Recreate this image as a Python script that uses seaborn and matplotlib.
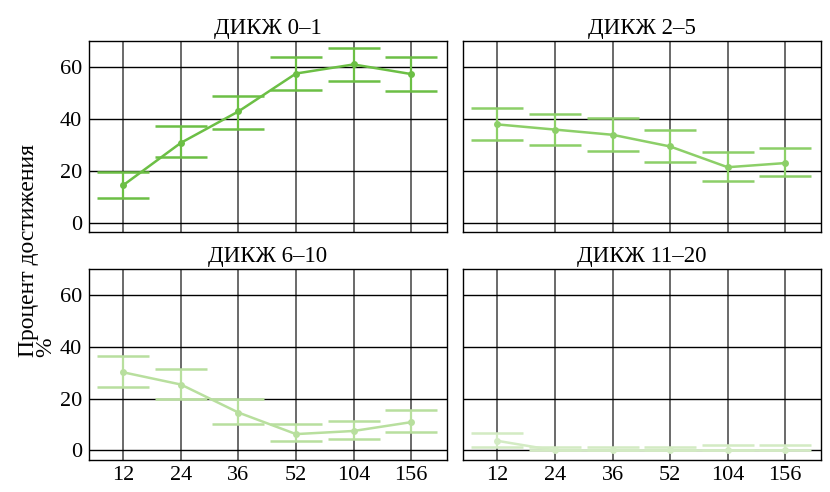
import matplotlib
matplotlib.use("Agg")
import matplotlib.pyplot as plt
import numpy as np
import pandas as pd
import seaborn as sns

weeks = ["12", "24", "36", "52", "104", "156"]
groups = ["ДИКЖ 0–1", "ДИКЖ 2–5", "ДИКЖ 6–10", "ДИКЖ 11–20"]

mid_0_1 = [14.4, 30.7, 42.8, 57.4, 60.9, 57.2]
low_0_1 = [9.6, 25.2, 36.1, 51.0, 54.5, 50.7]
high_0_1 = [19.3, 37.0, 48.9, 63.8, 67.2, 63.6]

mid_2_5 = [37.8, 35.8, 33.8, 29.3, 21.3, 22.9]
low_2_5 = [31.7, 29.8, 27.7, 23.2, 15.9, 17.8]
high_2_5 = [44.0, 42.0, 40.2, 35.6, 27.0, 28.6]

mid_6_10 = [30.1, 25.4, 14.6, 6.3, 7.5, 10.9]
low_6_10 = [24.3, 20.0, 10.3, 3.6, 4.6, 7.2]
high_6_10 = [36.3, 31.2, 20.0, 10.0, 11.3, 15.6]

mid_11_20 = [3.7, 0.0, 0.0, 0.0, 0.0, 0.0]
low_11_20 = [1.2, 0.0, 0.0, 0.0, 0.0, 0.0]
high_11_20 = [6.6, 1.2, 1.2, 1.2, 2.2, 2.2]

colors = ["#6cbf45", "#8ccf68", "#b8df9e", "#d3ebc3"]

series = [
    (mid_0_1, low_0_1, high_0_1),
    (mid_2_5, low_2_5, high_2_5),
    (mid_6_10, low_6_10, high_6_10),
    (mid_11_20, low_11_20, high_11_20),
]

frames = []
for g, (m, lo, hi) in zip(groups, series):
    frames.append(pd.DataFrame({
        "group": g, "week": weeks, "pos": np.arange(len(weeks)),
        "mid": m, "low": lo, "high": hi,
    }))
df = pd.concat(frames, ignore_index=True)

sns.set_theme(style="whitegrid")
plt.rcParams["font.family"] = ["Liberation Serif", "DejaVu Serif"]
plt.rcParams.update({
    "text.color": "black",
    "axes.labelcolor": "black",
    "axes.edgecolor": "black",
    "axes.linewidth": 1.0,
    "grid.color": "black",
    "grid.linewidth": 1.0,
    "xtick.labelsize": 16,
    "ytick.labelsize": 16,
    "xtick.color": "black",
    "ytick.color": "black",
})

fig, axes = plt.subplots(2, 2, figsize=(8.3, 4.92), dpi=100, sharex=True, sharey=True)
fig.subplots_adjust(left=0.107, right=0.989, top=0.917, bottom=0.066,
                    wspace=0.045, hspace=0.195)

for ax, g, c in zip(axes.flat, groups, colors):
    d = df[df["group"] == g]
    ax.errorbar(d["pos"], d["mid"],
                yerr=[d["mid"] - d["low"], d["high"] - d["mid"]],
                fmt="none", ecolor=c, elinewidth=1.6, capsize=18.5,
                capthick=1.8, zorder=3)
    sns.lineplot(data=d, x="pos", y="mid", ax=ax, color=c, linewidth=1.8,
                 marker="o", markersize=5, markeredgewidth=0, zorder=4)
    ax.set_title(g, fontsize=16.5, pad=5, color="black")
    ax.set_xlabel("")
    ax.set_ylabel("")
    ax.set_xlim(-0.6, 5.62)
    ax.set_ylim(-3.5, 70)
    ax.set_yticks([0, 20, 40, 60])
    ax.set_xticks(range(len(weeks)))
    ax.set_xticklabels(weeks)
    ax.xaxis.grid(True, color="#5e5e5e", linewidth=1.3)
    ax.yaxis.grid(True, color="black", linewidth=1.0)
    ax.tick_params(length=0, pad=5, labelcolor="black")
    ax.set_axisbelow(True)

fig.supylabel("Процент достижения\n%", fontsize=17, x=0.022, y=0.49,
              linespacing=0.75, color="black")

fig.savefig("out.png", dpi=100)
